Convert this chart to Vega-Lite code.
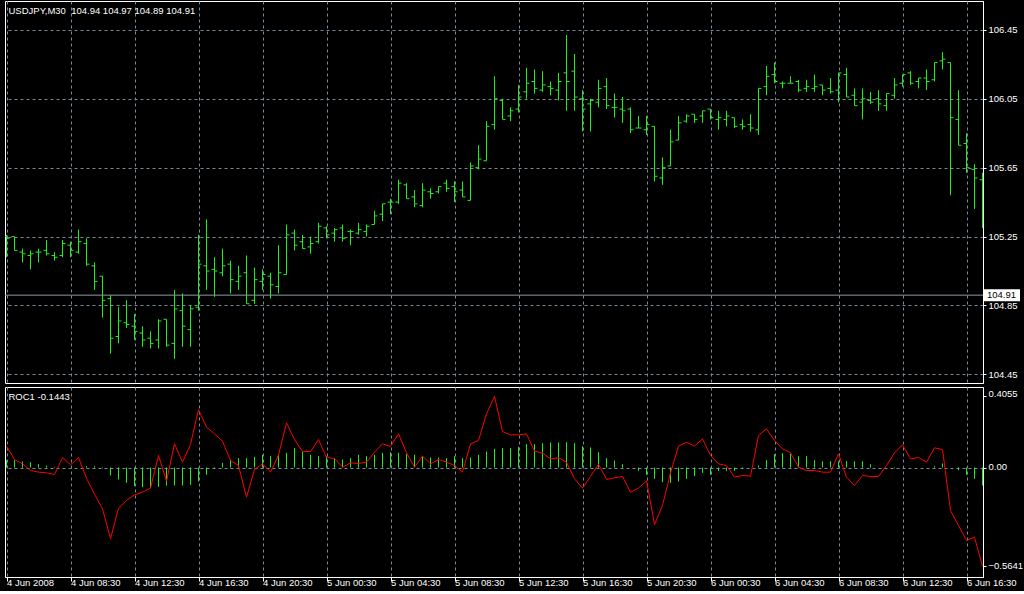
{
  "$schema": "https://vega.github.io/schema/vega-lite/v6.json",
  "background": "#000000",
  "padding": {"left": 4, "top": 0, "right": 4, "bottom": 3},
  "spacing": 2,
  "config": {
    "font": "Liberation Sans",
    "view": {"stroke": "#ffffff", "strokeWidth": 1, "fill": "#000000"},
    "axis": {"labelColor": "#ffffff", "labelFont": "Liberation Sans", "labelFontSize": 9.5, "domainColor": "#ffffff", "tickColor": "#ffffff", "gridColor": "#778899", "gridDash": [3, 3], "gridOpacity": 1, "gridWidth": 1}
  },
  "datasets": {
    "bars": [
      {"t":"2008-06-04T04:30Z","o":105.25,"h":105.26,"l":105.13,"c":105.24,"roc":0.1217,"hist":0.0418},
      {"t":"2008-06-04T05:00Z","o":105.25,"h":105.25,"l":105.17,"c":105.17,"roc":0.0456,"hist":0.0418},
      {"t":"2008-06-04T05:30Z","o":105.16,"h":105.18,"l":105.10,"c":105.15,"roc":0.0209,"hist":0.0342},
      {"t":"2008-06-04T06:00Z","o":105.14,"h":105.17,"l":105.06,"c":105.15,"roc":-0.0171,"hist":0.0304},
      {"t":"2008-06-04T06:30Z","o":105.16,"h":105.18,"l":105.10,"c":105.16,"roc":-0.0266,"hist":0.0190},
      {"t":"2008-06-04T07:00Z","o":105.17,"h":105.23,"l":105.14,"c":105.15,"roc":-0.0304,"hist":0.0114},
      {"t":"2008-06-04T07:30Z","o":105.14,"h":105.16,"l":105.11,"c":105.13,"roc":-0.0399,"hist":0.0038},
      {"t":"2008-06-04T08:00Z","o":105.14,"h":105.23,"l":105.13,"c":105.21,"roc":0.0570,"hist":0},
      {"t":"2008-06-04T08:30Z","o":105.20,"h":105.22,"l":105.13,"c":105.17,"roc":0.0152,"hist":0},
      {"t":"2008-06-04T09:00Z","o":105.16,"h":105.29,"l":105.15,"c":105.22,"roc":0.0570,"hist":0},
      {"t":"2008-06-04T09:30Z","o":105.21,"h":105.24,"l":105.08,"c":105.09,"roc":-0.0608,"hist":0.0076},
      {"t":"2008-06-04T10:00Z","o":105.08,"h":105.10,"l":104.94,"c":104.99,"roc":-0.1521,"hist":0.0076},
      {"t":"2008-06-04T10:30Z","o":105.02,"h":105.02,"l":104.78,"c":104.88,"roc":-0.2358,"hist":-0.0038},
      {"t":"2008-06-04T11:00Z","o":104.89,"h":104.91,"l":104.57,"c":104.66,"roc":-0.4069,"hist":-0.0456},
      {"t":"2008-06-04T11:30Z","o":104.67,"h":104.84,"l":104.63,"c":104.76,"roc":-0.2320,"hist":-0.0685},
      {"t":"2008-06-04T12:00Z","o":104.75,"h":104.88,"l":104.72,"c":104.74,"roc":-0.1882,"hist":-0.0875},
      {"t":"2008-06-04T12:30Z","o":104.73,"h":104.80,"l":104.65,"c":104.70,"roc":-0.1559,"hist":-0.1065},
      {"t":"2008-06-04T13:00Z","o":104.69,"h":104.73,"l":104.61,"c":104.65,"roc":-0.1407,"hist":-0.1122},
      {"t":"2008-06-04T13:30Z","o":104.66,"h":104.70,"l":104.60,"c":104.63,"roc":-0.1179,"hist":-0.1179},
      {"t":"2008-06-04T14:00Z","o":104.65,"h":104.77,"l":104.60,"c":104.76,"roc":0.0685,"hist":-0.1103},
      {"t":"2008-06-04T14:30Z","o":104.77,"h":104.77,"l":104.61,"c":104.62,"roc":-0.0780,"hist":-0.1027},
      {"t":"2008-06-04T15:00Z","o":104.63,"h":104.94,"l":104.54,"c":104.83,"roc":0.1350,"hist":-0.1027},
      {"t":"2008-06-04T15:30Z","o":104.82,"h":104.92,"l":104.61,"c":104.73,"roc":0.0304,"hist":-0.1027},
      {"t":"2008-06-04T16:00Z","o":104.71,"h":104.85,"l":104.61,"c":104.83,"roc":0.1312,"hist":-0.0989},
      {"t":"2008-06-04T16:30Z","o":104.84,"h":105.26,"l":104.82,"c":105.09,"roc":0.3309,"hist":-0.0799},
      {"t":"2008-06-04T17:00Z","o":105.08,"h":105.35,"l":104.94,"c":105.05,"roc":0.2301,"hist":-0.0418},
      {"t":"2008-06-04T17:30Z","o":105.06,"h":105.13,"l":104.90,"c":105.05,"roc":0.1921,"hist":-0.0076},
      {"t":"2008-06-04T18:00Z","o":105.04,"h":105.18,"l":105.02,"c":105.08,"roc":0.1502,"hist":0.0266},
      {"t":"2008-06-04T18:30Z","o":105.09,"h":105.11,"l":104.92,"c":105.00,"roc":0.0399,"hist":0.0456},
      {"t":"2008-06-04T19:00Z","o":104.99,"h":105.08,"l":104.94,"c":105.02,"roc":0.0114,"hist":0.0532},
      {"t":"2008-06-04T19:30Z","o":105.04,"h":105.14,"l":104.86,"c":104.86,"roc":-0.1692,"hist":0.0532},
      {"t":"2008-06-04T20:00Z","o":104.88,"h":105.07,"l":104.86,"c":105.00,"roc":-0.0114,"hist":0.0608},
      {"t":"2008-06-04T20:30Z","o":104.99,"h":105.06,"l":104.94,"c":105.03,"roc":0.0209,"hist":0.0723},
      {"t":"2008-06-04T21:00Z","o":105.02,"h":105.04,"l":104.89,"c":104.97,"roc":-0.0266,"hist":0.0647},
      {"t":"2008-06-04T21:30Z","o":104.96,"h":105.20,"l":104.92,"c":105.04,"roc":0.0704,"hist":0.0723},
      {"t":"2008-06-04T22:00Z","o":105.03,"h":105.32,"l":105.03,"c":105.26,"roc":0.2548,"hist":0.0837},
      {"t":"2008-06-04T22:30Z","o":105.27,"h":105.29,"l":105.17,"c":105.20,"roc":0.1597,"hist":0.1103},
      {"t":"2008-06-04T23:00Z","o":105.22,"h":105.26,"l":105.18,"c":105.18,"roc":0.0913,"hist":0.0913},
      {"t":"2008-06-04T23:30Z","o":105.19,"h":105.25,"l":105.15,"c":105.21,"roc":0.0913,"hist":0.0723},
      {"t":"2008-06-05T00:00Z","o":105.22,"h":105.33,"l":105.21,"c":105.31,"roc":0.1597,"hist":0.0647},
      {"t":"2008-06-05T00:30Z","o":105.30,"h":105.31,"l":105.24,"c":105.26,"roc":0.0570,"hist":0.0647},
      {"t":"2008-06-05T01:00Z","o":105.27,"h":105.30,"l":105.22,"c":105.29,"roc":0.0513,"hist":0.0513},
      {"t":"2008-06-05T01:30Z","o":105.30,"h":105.32,"l":105.22,"c":105.24,"roc":0.0019,"hist":0.0456},
      {"t":"2008-06-05T02:00Z","o":105.28,"h":105.29,"l":105.20,"c":105.28,"roc":0.0266,"hist":0.0532},
      {"t":"2008-06-05T02:30Z","o":105.27,"h":105.33,"l":105.26,"c":105.29,"roc":0.0228,"hist":0.0723},
      {"t":"2008-06-05T03:00Z","o":105.28,"h":105.32,"l":105.25,"c":105.31,"roc":0.0304,"hist":0.0647},
      {"t":"2008-06-05T03:30Z","o":105.32,"h":105.40,"l":105.32,"c":105.37,"roc":0.0875,"hist":0.0723},
      {"t":"2008-06-05T04:00Z","o":105.38,"h":105.44,"l":105.34,"c":105.44,"roc":0.1350,"hist":0.0837},
      {"t":"2008-06-05T04:30Z","o":105.45,"h":105.47,"l":105.38,"c":105.45,"roc":0.1198,"hist":0.0875},
      {"t":"2008-06-05T05:00Z","o":105.45,"h":105.58,"l":105.44,"c":105.56,"roc":0.1921,"hist":0.0837},
      {"t":"2008-06-05T05:30Z","o":105.55,"h":105.56,"l":105.47,"c":105.47,"roc":0.0837,"hist":0.0761},
      {"t":"2008-06-05T06:00Z","o":105.48,"h":105.52,"l":105.42,"c":105.44,"roc":0.0019,"hist":0.0723},
      {"t":"2008-06-05T06:30Z","o":105.43,"h":105.56,"l":105.42,"c":105.52,"roc":0.0647,"hist":0.0647},
      {"t":"2008-06-05T07:00Z","o":105.51,"h":105.53,"l":105.47,"c":105.50,"roc":0.0209,"hist":0.0570},
      {"t":"2008-06-05T07:30Z","o":105.51,"h":105.54,"l":105.50,"c":105.54,"roc":0.0456,"hist":0.0570},
      {"t":"2008-06-05T08:00Z","o":105.56,"h":105.58,"l":105.51,"c":105.53,"roc":0.0304,"hist":0.0532},
      {"t":"2008-06-05T08:30Z","o":105.54,"h":105.57,"l":105.45,"c":105.51,"roc":0.0114,"hist":0.0647},
      {"t":"2008-06-05T09:00Z","o":105.52,"h":105.57,"l":105.48,"c":105.48,"roc":-0.0266,"hist":0.0532},
      {"t":"2008-06-05T09:30Z","o":105.46,"h":105.68,"l":105.46,"c":105.66,"roc":0.1350,"hist":0.0570},
      {"t":"2008-06-05T10:00Z","o":105.65,"h":105.78,"l":105.64,"c":105.70,"roc":0.1540,"hist":0.0723},
      {"t":"2008-06-05T10:30Z","o":105.69,"h":105.92,"l":105.69,"c":105.89,"roc":0.3061,"hist":0.0913},
      {"t":"2008-06-05T11:00Z","o":105.90,"h":106.18,"l":105.87,"c":106.05,"roc":0.4055,"hist":0.1065},
      {"t":"2008-06-05T11:30Z","o":106.04,"h":106.05,"l":105.93,"c":105.93,"roc":0.2054,"hist":0.1103},
      {"t":"2008-06-05T12:00Z","o":105.95,"h":106.00,"l":105.92,"c":105.98,"roc":0.1863,"hist":0.1103},
      {"t":"2008-06-05T12:30Z","o":105.99,"h":106.13,"l":105.97,"c":106.06,"roc":0.1863,"hist":0.1179},
      {"t":"2008-06-05T13:00Z","o":106.09,"h":106.23,"l":106.05,"c":106.14,"roc":0.1921,"hist":0.1331},
      {"t":"2008-06-05T13:30Z","o":106.15,"h":106.22,"l":106.08,"c":106.11,"roc":0.0932,"hist":0.1331},
      {"t":"2008-06-05T14:00Z","o":106.10,"h":106.21,"l":106.09,"c":106.13,"roc":0.0818,"hist":0.1388},
      {"t":"2008-06-05T14:30Z","o":106.12,"h":106.15,"l":106.07,"c":106.11,"roc":0.0494,"hist":0.1426},
      {"t":"2008-06-05T15:00Z","o":106.10,"h":106.20,"l":106.04,"c":106.15,"roc":0.0551,"hist":0.1426},
      {"t":"2008-06-05T15:30Z","o":106.20,"h":106.42,"l":105.98,"c":106.15,"roc":0.0304,"hist":0.1445},
      {"t":"2008-06-05T16:00Z","o":106.21,"h":106.31,"l":105.98,"c":106.06,"roc":-0.0647,"hist":0.1388},
      {"t":"2008-06-05T16:30Z","o":106.05,"h":106.10,"l":105.86,"c":105.99,"roc":-0.1179,"hist":0.1217},
      {"t":"2008-06-05T17:00Z","o":106.02,"h":106.05,"l":105.86,"c":106.04,"roc":-0.0513,"hist":0.1141},
      {"t":"2008-06-05T17:30Z","o":106.03,"h":106.16,"l":106.00,"c":106.11,"roc":0.0190,"hist":0.0875},
      {"t":"2008-06-05T18:00Z","o":106.12,"h":106.17,"l":105.99,"c":106.01,"roc":-0.0685,"hist":0.0532},
      {"t":"2008-06-05T18:30Z","o":106.00,"h":106.08,"l":105.94,"c":106.00,"roc":-0.0589,"hist":0.0399},
      {"t":"2008-06-05T19:00Z","o":105.99,"h":106.06,"l":105.91,"c":105.98,"roc":-0.0513,"hist":0.0190},
      {"t":"2008-06-05T19:30Z","o":105.99,"h":106.00,"l":105.85,"c":105.87,"roc":-0.1407,"hist":0},
      {"t":"2008-06-05T20:00Z","o":105.88,"h":105.95,"l":105.88,"c":105.88,"roc":-0.1179,"hist":-0.0190},
      {"t":"2008-06-05T20:30Z","o":105.87,"h":105.95,"l":105.84,"c":105.90,"roc":-0.0761,"hist":-0.0418},
      {"t":"2008-06-05T21:00Z","o":105.89,"h":105.89,"l":105.57,"c":105.60,"roc":-0.3252,"hist":-0.0647},
      {"t":"2008-06-05T21:30Z","o":105.59,"h":105.71,"l":105.55,"c":105.65,"roc":-0.2168,"hist":-0.0837},
      {"t":"2008-06-05T22:00Z","o":105.66,"h":105.87,"l":105.66,"c":105.80,"roc":-0.0304,"hist":-0.0875},
      {"t":"2008-06-05T22:30Z","o":105.81,"h":105.95,"l":105.81,"c":105.91,"roc":0.1217,"hist":-0.0799},
      {"t":"2008-06-05T23:00Z","o":105.92,"h":105.96,"l":105.91,"c":105.95,"roc":0.1445,"hist":-0.0647},
      {"t":"2008-06-05T23:30Z","o":105.96,"h":105.96,"l":105.91,"c":105.93,"roc":0.1217,"hist":-0.0494},
      {"t":"2008-06-06T00:00Z","o":105.95,"h":105.98,"l":105.91,"c":105.98,"roc":0.1635,"hist":-0.0304},
      {"t":"2008-06-06T00:30Z","o":105.99,"h":105.99,"l":105.93,"c":105.94,"roc":0.0685,"hist":-0.0418},
      {"t":"2008-06-06T01:00Z","o":105.93,"h":105.98,"l":105.87,"c":105.94,"roc":0.0209,"hist":-0.0190},
      {"t":"2008-06-06T01:30Z","o":105.93,"h":105.98,"l":105.89,"c":105.95,"roc":0.0114,"hist":-0.0190},
      {"t":"2008-06-06T02:00Z","o":105.94,"h":105.94,"l":105.88,"c":105.89,"roc":-0.0551,"hist":-0.0190},
      {"t":"2008-06-06T02:30Z","o":105.90,"h":105.93,"l":105.87,"c":105.89,"roc":-0.0456,"hist":-0.0076},
      {"t":"2008-06-06T03:00Z","o":105.90,"h":105.96,"l":105.86,"c":105.88,"roc":-0.0494,"hist":0},
      {"t":"2008-06-06T03:30Z","o":105.87,"h":106.11,"l":105.84,"c":106.11,"roc":0.1825,"hist":0.0114},
      {"t":"2008-06-06T04:00Z","o":106.12,"h":106.24,"l":106.07,"c":106.18,"roc":0.2206,"hist":0.0418},
      {"t":"2008-06-06T04:30Z","o":106.19,"h":106.26,"l":106.14,"c":106.15,"roc":0.1540,"hist":0.0761},
      {"t":"2008-06-06T05:00Z","o":106.14,"h":106.15,"l":106.11,"c":106.14,"roc":0.1065,"hist":0.0818},
      {"t":"2008-06-06T05:30Z","o":106.14,"h":106.18,"l":106.14,"c":106.14,"roc":0.0837,"hist":0.0780},
      {"t":"2008-06-06T06:00Z","o":106.15,"h":106.16,"l":106.09,"c":106.10,"roc":0.0019,"hist":0.0647},
      {"t":"2008-06-06T06:30Z","o":106.11,"h":106.16,"l":106.09,"c":106.12,"roc":-0.0171,"hist":0.0647},
      {"t":"2008-06-06T07:00Z","o":106.11,"h":106.19,"l":106.09,"c":106.12,"roc":-0.0171,"hist":0.0418},
      {"t":"2008-06-06T07:30Z","o":106.13,"h":106.13,"l":106.07,"c":106.10,"roc":-0.0266,"hist":0.0361},
      {"t":"2008-06-06T08:00Z","o":106.11,"h":106.17,"l":106.08,"c":106.09,"roc":-0.0266,"hist":0.0361},
      {"t":"2008-06-06T08:30Z","o":106.10,"h":106.20,"l":106.03,"c":106.20,"roc":0.0780,"hist":0.0361},
      {"t":"2008-06-06T09:00Z","o":106.19,"h":106.23,"l":106.06,"c":106.06,"roc":-0.0551,"hist":0.0361},
      {"t":"2008-06-06T09:30Z","o":106.07,"h":106.11,"l":106.01,"c":106.01,"roc":-0.1027,"hist":0.0361},
      {"t":"2008-06-06T10:00Z","o":106.03,"h":106.11,"l":105.93,"c":106.05,"roc":-0.0456,"hist":0.0361},
      {"t":"2008-06-06T10:30Z","o":106.04,"h":106.09,"l":106.02,"c":106.03,"roc":-0.0513,"hist":0.0190},
      {"t":"2008-06-06T11:00Z","o":106.05,"h":106.10,"l":105.98,"c":106.02,"roc":-0.0513,"hist":0},
      {"t":"2008-06-06T11:30Z","o":106.01,"h":106.08,"l":105.98,"c":106.08,"roc":0.0114,"hist":0},
      {"t":"2008-06-06T12:00Z","o":106.07,"h":106.17,"l":106.05,"c":106.13,"roc":0.0837,"hist":-0.0038},
      {"t":"2008-06-06T12:30Z","o":106.14,"h":106.19,"l":106.12,"c":106.19,"roc":0.1293,"hist":0},
      {"t":"2008-06-06T13:00Z","o":106.20,"h":106.21,"l":106.13,"c":106.14,"roc":0.0494,"hist":0},
      {"t":"2008-06-06T13:30Z","o":106.15,"h":106.17,"l":106.11,"c":106.17,"roc":0.0570,"hist":0},
      {"t":"2008-06-06T14:00Z","o":106.17,"h":106.22,"l":106.10,"c":106.15,"roc":0.0304,"hist":0},
      {"t":"2008-06-06T14:30Z","o":106.16,"h":106.26,"l":106.15,"c":106.26,"roc":0.1122,"hist":0.0076},
      {"t":"2008-06-06T15:00Z","o":106.27,"h":106.32,"l":106.22,"c":106.28,"roc":0.1027,"hist":0.0228},
      {"t":"2008-06-06T15:30Z","o":106.26,"h":106.26,"l":105.49,"c":105.94,"roc":-0.2453,"hist":0},
      {"t":"2008-06-06T16:00Z","o":105.93,"h":106.10,"l":105.78,"c":105.78,"roc":-0.3309,"hist":-0.0152},
      {"t":"2008-06-06T16:30Z","o":105.79,"h":105.85,"l":105.62,"c":105.65,"roc":-0.4164,"hist":-0.0418},
      {"t":"2008-06-06T17:00Z","o":105.64,"h":105.67,"l":105.41,"c":105.59,"roc":-0.3974,"hist":-0.0647},
      {"t":"2008-06-06T17:30Z","o":105.58,"h":105.62,"l":105.30,"c":105.45,"roc":-0.5641,"hist":-0.1027}
    ]
  },
  "vconcat": [
    {
      "width": 978,
      "height": 382,
      "data": {"name": "bars"},
      "layer": [
        {
          "mark": {"type": "rule", "color": "#22ee22", "strokeWidth": 1, "clip": true},
          "encoding": {
            "x": {"field": "t", "type": "temporal", "title": null,
              "scale": {"type": "utc", "domain": [1212553462500, 1212773512500]},
              "axis": {"values": [1212553800000,1212561000000,1212568200000,1212575400000,1212582600000,1212589800000,1212597000000,1212604200000,1212611400000,1212618600000,1212625800000,1212633000000,1212640200000,1212647400000,1212654600000,1212661800000,1212669000000,1212676200000,1212683400000,1212690600000,1212697800000,1212705000000,1212712200000,1212719400000,1212726600000,1212733800000,1212741000000,1212748200000,1212755400000,1212762600000,1212769800000],
                "grid": true, "labels": false, "ticks": false, "domain": false}},
            "y": {"field": "l", "type": "quantitative", "title": null,
              "scale": {"domain": [104.4001, 106.6172], "zero": false, "nice": false},
              "axis": {"orient": "right", "values": [104.45, 104.65, 104.85, 105.05, 105.25, 105.45, 105.65, 105.85, 106.05, 106.25, 106.45],
                "format": ".2f", "grid": true, "tickSize": 3, "labelPadding": 2, "labelFlush": false, "labelOverlap": false}},
            "y2": {"field": "h"}
          }
        },
        {
          "mark": {"type": "tick", "orient": "horizontal", "size": 3, "thickness": 1, "xOffset": -1.5, "color": "#22ee22", "opacity": 1, "clip": true},
          "encoding": {
            "x": {"field": "t", "type": "temporal", "title": null},
            "y": {"field": "o", "type": "quantitative", "title": null}
          }
        },
        {
          "mark": {"type": "tick", "orient": "horizontal", "size": 3, "thickness": 1, "xOffset": 1.5, "color": "#22ee22", "opacity": 1, "clip": true},
          "encoding": {
            "x": {"field": "t", "type": "temporal", "title": null},
            "y": {"field": "c", "type": "quantitative", "title": null}
          }
        },
        {
          "data": {"values": [{"price": 104.91, "label": "104.91"}]},
          "layer": [
            {
              "mark": {"type": "rule", "color": "#8c99a6", "strokeWidth": 1},
              "encoding": {"y": {"field": "price", "type": "quantitative", "title": null}}
            },
            {
              "mark": {"type": "rect", "color": "#ffffff", "width": 36, "height": 12, "xOffset": 19},
              "encoding": {
                "x": {"datum": {"year": 2008, "month": 6, "date": 6, "hours": 17, "minutes": 31, "seconds": 52, "milliseconds": 500, "utc": true}, "type": "temporal"},
                "y": {"field": "price", "type": "quantitative", "title": null}
              }
            },
            {
              "mark": {"type": "text", "color": "#000000", "align": "left", "baseline": "middle", "dx": 4, "fontSize": 9.5},
              "encoding": {
                "x": {"datum": {"year": 2008, "month": 6, "date": 6, "hours": 17, "minutes": 31, "seconds": 52, "milliseconds": 500, "utc": true}, "type": "temporal"},
                "y": {"field": "price", "type": "quantitative", "title": null},
                "text": {"field": "label"}
              }
            }
          ]
        },
        {
          "data": {"values": [{"label": "USDJPY,M30\u00a0\u00a0104.94 104.97 104.89 104.91"}]},
          "mark": {"type": "text", "color": "#ffffff", "align": "left", "baseline": "middle", "dx": 2, "fontSize": 9.5},
          "encoding": {
            "x": {"datum": {"year": 2008, "month": 6, "date": 4, "hours": 4, "minutes": 30, "utc": true}, "type": "temporal"},
            "y": {"datum": 106.558, "type": "quantitative"},
            "text": {"field": "label"}
          }
        }
      ]
    },
    {
      "width": 978,
      "height": 190,
      "data": {"name": "bars"},
      "layer": [
        {
          "mark": {"type": "rule", "color": "#22ee22", "strokeWidth": 1},
          "encoding": {
            "x": {"field": "t", "type": "temporal", "title": null,
              "scale": {"type": "utc", "domain": [1212553462500, 1212773512500]},
              "axis": {"values": [1212553800000,1212561000000,1212568200000,1212575400000,1212582600000,1212589800000,1212597000000,1212604200000,1212611400000,1212618600000,1212625800000,1212633000000,1212640200000,1212647400000,1212654600000,1212661800000,1212669000000,1212676200000,1212683400000,1212690600000,1212697800000,1212705000000,1212712200000,1212719400000,1212726600000,1212733800000,1212741000000,1212748200000,1212755400000,1212762600000,1212769800000],
                "grid": true, "domain": true, "ticks": true, "tickSize": 4,
                "tickOpacity": {"condition": {"test": "utchours(datum.value) % 4 == 0", "value": 1}, "value": 0},
                "labelExpr": "utchours(datum.value) % 4 != 0 ? '' : ((utcdate(datum.value) == 4 && utchours(datum.value) == 4) ? '4 Jun 2008' : utcFormat(datum.value, '%-d %b %H:%M'))",
                "labelAlign": "left", "labelBaseline": "middle", "labelOffset": 0, "labelPadding": 1.5, "labelFlush": false, "labelOverlap": false}},
            "y": {"field": "hist", "type": "quantitative", "title": null,
              "scale": {"domain": [-0.6246, 0.4592], "zero": false, "nice": false},
              "axis": {"orient": "right", "values": [0.4055, 0, -0.5641],
                "labelExpr": "datum.value == 0 ? '0.00' : format(datum.value, '.4f')",
                "labelOffset": {"condition": {"test": "datum.value > 0.3", "value": -3}, "value": -1},
                "grid": true, "gridOpacity": {"condition": {"test": "datum.value == 0", "value": 1}, "value": 0},
                "tickSize": 3, "labelPadding": 2, "labelFlush": false, "labelOverlap": false}},
            "y2": {"datum": 0}
          }
        },
        {
          "mark": {"type": "line", "color": "#ff0000", "strokeWidth": 1},
          "encoding": {
            "x": {"field": "t", "type": "temporal", "title": null},
            "y": {"field": "roc", "type": "quantitative", "title": null}
          }
        },
        {
          "data": {"values": [{"label": "ROC1 -0.1443"}]},
          "mark": {"type": "text", "color": "#ffffff", "align": "left", "baseline": "middle", "dx": 2, "fontSize": 9.5},
          "encoding": {
            "x": {"datum": {"year": 2008, "month": 6, "date": 4, "hours": 4, "minutes": 30, "utc": true}, "type": "temporal"},
            "y": {"datum": 0.402, "type": "quantitative"},
            "text": {"field": "label"}
          }
        }
      ]
    }
  ]
}
